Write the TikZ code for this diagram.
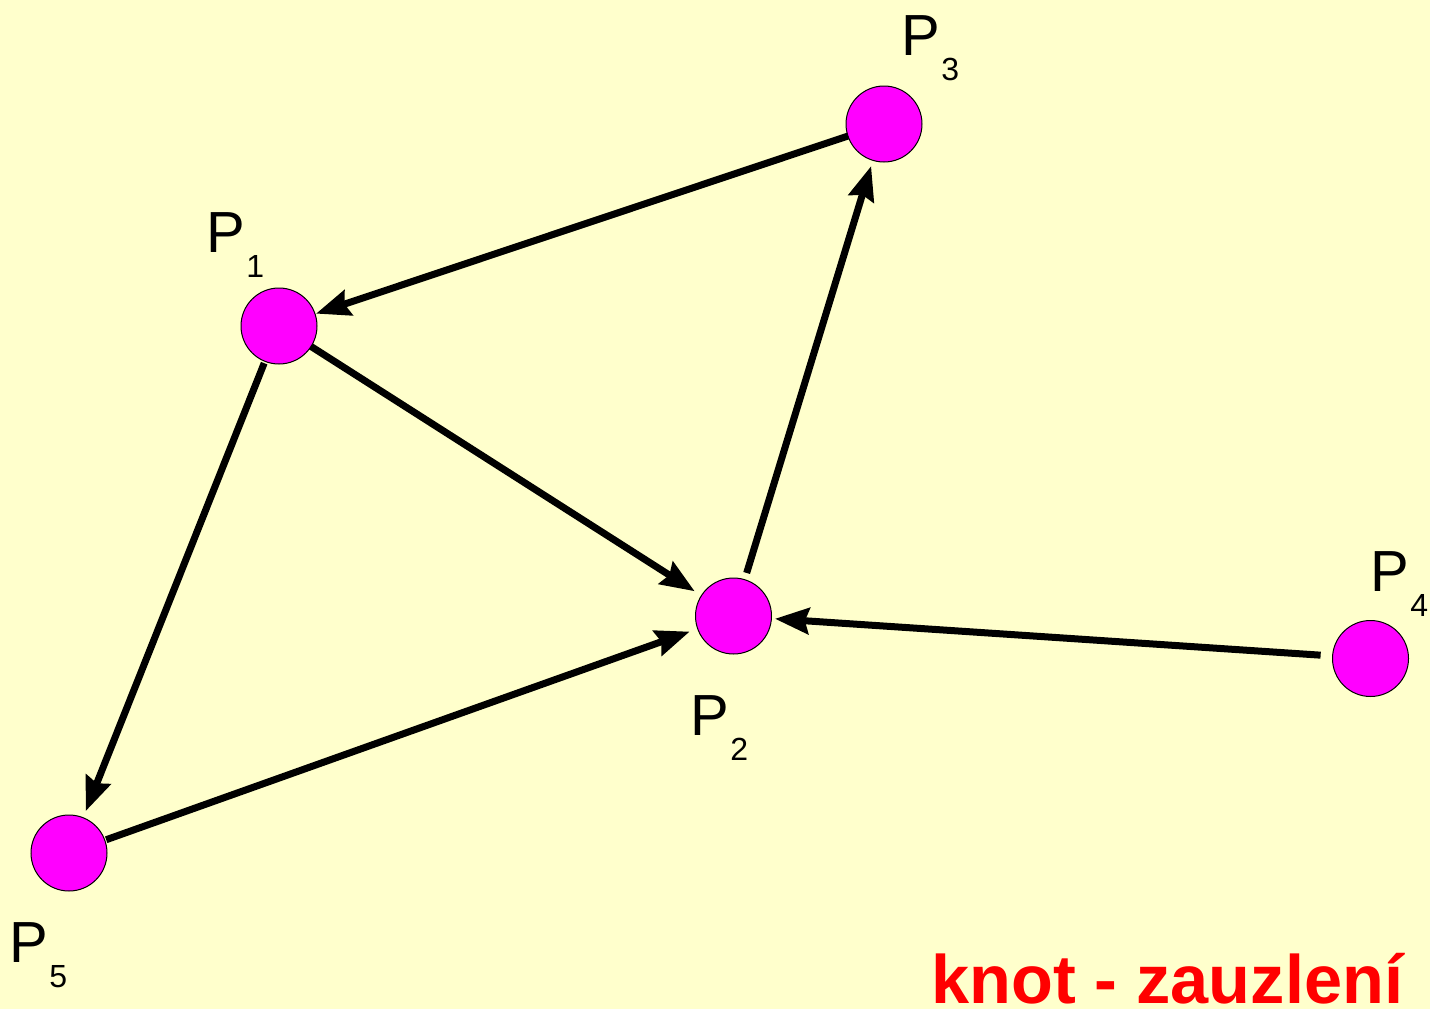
\documentclass[tikz,border=0pt]{standalone}
\usepackage{fontspec}
\setmainfont{Liberation Sans}
\usepackage{xcolor}
\usepackage{tikz}
\usetikzlibrary{arrows.meta,positioning}

\definecolor{slidebg}{HTML}{FFFFCC}
\definecolor{pmagenta}{HTML}{FF00FF}
\newcommand{\plab}[1]{P\hspace{1pt}\raisebox{-25pt}{\fontsize{32}{32}\selectfont #1}}

\begin{document}
\begin{tikzpicture}[
    x=1pt, y=-1pt,
    pnode/.style={circle, draw, line width=1pt, fill=pmagenta, minimum size=76pt, inner sep=0pt, outer sep=0pt},
    plabel/.style={anchor=base west, inner sep=0pt, font=\fontsize{58}{58}\selectfont},
    arrow/.style={-{Stealth[length=34pt, width=26pt, inset=4pt]}, line width=7pt}
]
\fill[slidebg] (0,0) rectangle (1430,1009);
\useasboundingbox (0,0) rectangle (1430,1009);

\node[pnode] (p1) at (279,326) {};
\node[pnode] (p2) at (733.5,616) {};
\node[pnode] (p3) at (884,124) {};
\node[pnode] (p4) at (1370.5,658.5) {};
\node[pnode] (p5) at (69,853) {};

\node[plabel] (l1) at (206.5,252) {\plab{1}};
\node[plabel] (l2) at (690.5,735) {\plab{2}};
\node[plabel] (l3) at (901.5,55) {\plab{3}};
\node[plabel] (l4) at (1370.5,591) {\plab{4}};
\node[plabel] (l5) at (9.5,962) {\plab{5}};

\draw[arrow, shorten >=1pt] (p3) -- (p1);
\draw[arrow, shorten >=8pt] (p1) -- (p2);
\draw[arrow, shorten <=2pt, shorten >=7pt] (p1) -- (p5);
\draw[arrow, shorten <=1.5pt, shorten >=8.5pt] (p5) -- (p2);
\draw[arrow, shorten <=7pt, shorten >=6pt] (p2) -- (p3);
\draw[arrow, shorten <=12pt, shorten >=3.5pt] (p4) -- (p2);

\node[anchor=base west, inner sep=0pt, text depth=0pt, text=red, font=\fontsize{68.5}{68.5}\selectfont\bfseries] (title) at (931,1003) {knot - zauzlení};
\end{tikzpicture}
\end{document}
